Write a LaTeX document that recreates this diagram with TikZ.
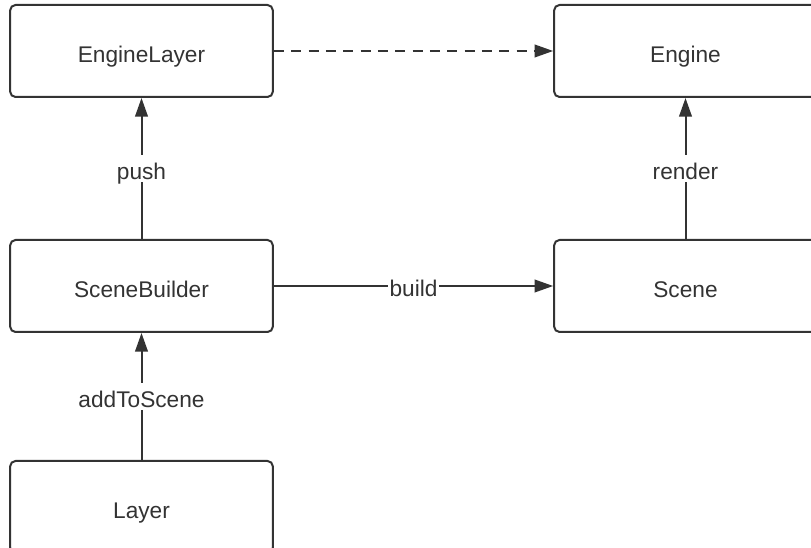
\documentclass[tikz,border=0pt]{standalone}
\usepackage{fontspec}
\setmainfont{Liberation Sans}
\usepackage{tikz}
\usepackage{xcolor}
\usetikzlibrary{arrows.meta,positioning}
\definecolor{ink}    {HTML}{333333}
\definecolor{paper}  {HTML}{FFFFFF}
\tikzset{
  layerbox/.style ={draw=ink, fill=paper, line width=1.5pt, rounded corners=4pt,
                    minimum width=197pt, minimum height=69pt,
                    text height=17pt, text depth=0pt,
                    align=center, text=ink, font=\fontsize{17}{20}\selectfont},
  flow/.style     ={-{Triangle[length=14pt,width=9.5pt]}, line width=1.5pt, draw=ink},
  weak/.style     ={flow, dash pattern=on 7.5pt off 5.5pt},
  tag/.style      ={fill=paper, text=ink, inner xsep=1pt, inner ysep=2pt,
                    text height=16pt, text depth=0pt,
                    font=\fontsize{17}{20}\selectfont},
}

\begin{document}
\begin{tikzpicture}[x=0.75pt,y=-0.75pt]
  \useasboundingbox (0,0) rectangle (811,548);
  \fill[paper] (0,0) rectangle (811,548);
  \clip (0,0) rectangle (811,548);

  % left column
  \node[layerbox] (enginelayer)  at (141.5,51)  {EngineLayer};
  \node[layerbox] (scenebuilder) at (141.5,286) {SceneBuilder};
  \node[layerbox] (layer)        at (141.5,507) {Layer};

  % right column
  \node[layerbox] (engine) at (685.5,51)  {Engine};
  \node[layerbox] (scene)  at (685.5,286) {Scene};

  % connectors
  \draw[flow] (layer) -- node[tag] {addToScene} (scenebuilder);
  \draw[flow] (scenebuilder) -- node[tag] {push} (enginelayer);
  \draw[flow] (scenebuilder) -- node[tag] {build} (scene);
  \draw[flow] (scene) -- node[tag] {render} (engine);
  \draw[weak] (enginelayer) -- (engine);
\end{tikzpicture}
\end{document}
